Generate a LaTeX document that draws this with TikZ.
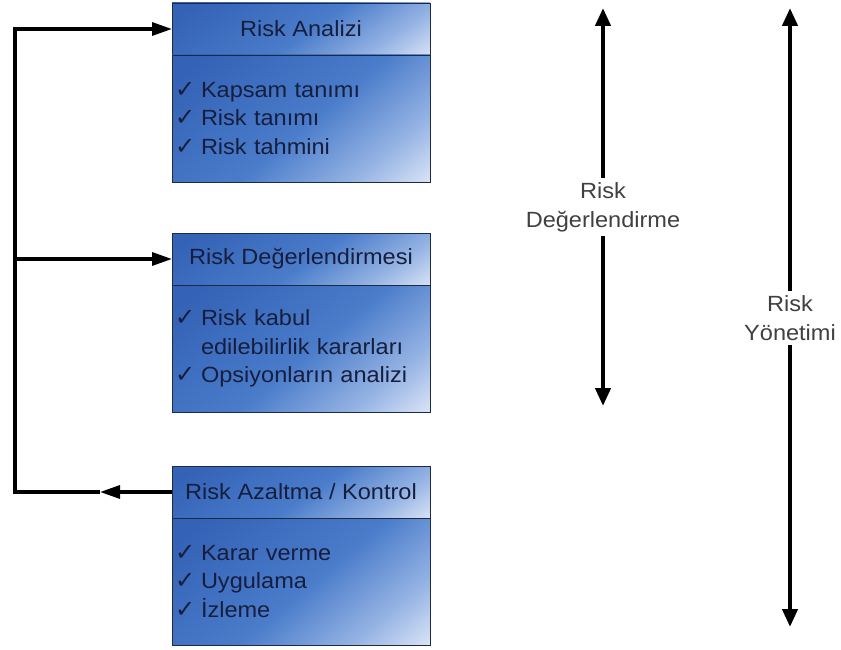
\documentclass[tikz,border=0pt]{standalone}
\usepackage{fontspec}
\setmainfont{Liberation Sans}[FakeStretch=1.07]
\newfontfamily\chkfont{DejaVu Sans}
\usepackage{xcolor}
\usepackage{tikz}
\usetikzlibrary{positioning,arrows.meta}
\definecolor{boxdark}{RGB}{52,98,182}
\definecolor{boxmid}{RGB}{74,124,202}
\definecolor{boxpale}{RGB}{150,180,228}
\definecolor{boxlight}{RGB}{242,245,252}
\definecolor{boxtext}{RGB}{22,30,62}
\definecolor{boxline}{RGB}{30,42,66}
\definecolor{labeltext}{RGB}{64,64,64}
\pgfdeclareverticalshading{kutu}{100bp}{color(0bp)=(boxlight); color(10bp)=(boxlight); color(28bp)=(boxpale); color(48bp)=(boxmid); color(80bp)=(boxdark); color(100bp)=(boxdark)}
\newcommand{\onay}{\makebox[26pt][l]{\chkfont\fontsize{24}{24}\selectfont ✓}}
\newcommand{\girinti}{\makebox[26pt]{}}
\tikzset{
    box head/.style={draw=boxline, line width=0.8pt, shading=kutu, shading angle=35, minimum width=258pt, minimum height=52pt, inner sep=0pt, outer sep=0pt, text=boxtext, font=\fontsize{22}{26}\selectfont},
    box body/.style={draw=boxline, line width=0.8pt, shading=kutu, shading angle=40, text width=252pt, inner xsep=3pt, inner ysep=0pt, minimum height=127pt, outer sep=0pt, align=left, text=boxtext, font=\fontsize{22}{28.5}\selectfont},
    link/.style={line width=3.2pt, black},
    span/.style={line width=4.2pt, -{Triangle[length=18pt,width=15pt]}},
    span label/.style={fill=white, text=labeltext, align=center, inner sep=4pt, font=\fontsize{22}{29}\selectfont}
}

\begin{document}
\begin{tikzpicture}[x=1pt, y=-1pt]
    \useasboundingbox (0,0) rectangle (841,650);

    \node[box head] (analiz) at (301,29) {Risk Analizi};
    \node[box body, below=0pt of analiz] (analizb) {\onay Kapsam tanımı\\ \onay Risk tanımı\\ \onay Risk tahmini};

    \node[box head] (deger) at (301,259) {Risk Değerlendirmesi};
    \node[box body, below=0pt of deger] (degerb) {\onay Risk kabul\\ \girinti edilebilirlik kararları\\ \onay Opsiyonların analizi};

    \node[box head] (azalt) at (301,492) {Risk Azaltma / Kontrol};
    \node[box body, below=0pt of azalt] (azaltb) {\onay Karar verme\\ \onay Uygulama\\ \onay İzleme};

    \coordinate (kose) at (15,492);
    \coordinate (ucu) at (100,492);
    \draw[link, -{Triangle[length=20pt,width=13pt]}] (azalt.west) -- (ucu);
    \draw[link, -{Triangle[length=20pt,width=13pt]}] (ucu) -- (kose) |- (analiz.west);
    \draw[link, -{Triangle[length=20pt,width=13pt]}] (kose |- deger.west) -- (deger.west);

    \node[span label] (degl) at (603,207) {Risk\\Değerlendirme};
    \coordinate (degust) at (603,8);
    \coordinate (degalt) at (603,406);
    \draw[span] (degl) -- (degust);
    \draw[span] (degl) -- (degalt);

    \node[span label] (yonl) at (790,318) {Risk\\Yönetimi};
    \coordinate (yonust) at (790,8);
    \coordinate (yonalt) at (790,627);
    \draw[span] (yonl) -- (yonust);
    \draw[span] (yonl) -- (yonalt);

\end{tikzpicture}
\end{document}
